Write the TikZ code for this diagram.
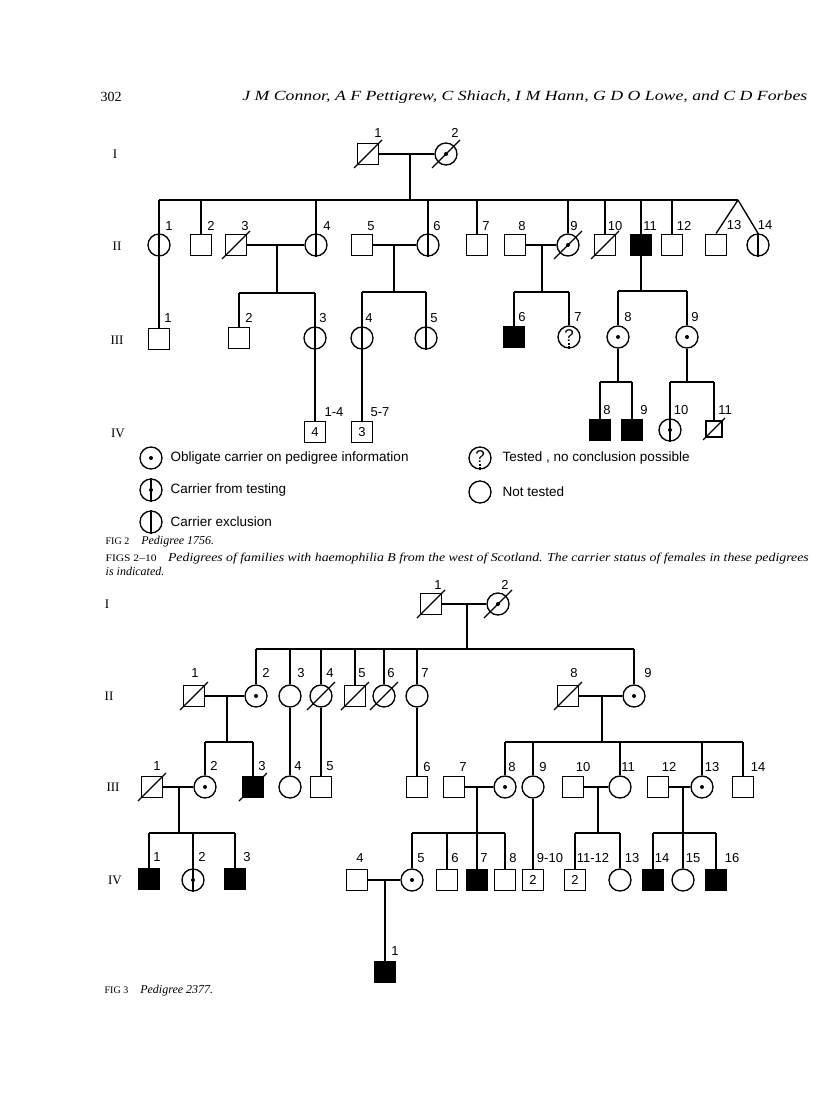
\documentclass[tikz,border=0pt]{standalone}
\usepackage{fontspec}
\setmainfont{Liberation Serif}
\setsansfont{Liberation Sans}
\usetikzlibrary{calc}
\newcommand\pdslash[2][14]{\draw ($(#2.center)+(-#1,#1)$) -- ($(#2.center)+(#1,-#1)$);}
\newcommand\pddot[1]{\fill (#1.center) circle (2pt);}
\newcommand\pdvl[1]{\draw (#1.north) -- (#1.south);}
\newcommand\lab[4]{\node[lab] (#1) at (#2,#3) {#4};}
\newcommand\pdq[1]{\node[font=\sffamily\fontsize{17}{17}\selectfont,inner sep=0pt] (#1q) at ($(#1.center)+(0,-1)$) {?};\draw[dash pattern=on 1.5pt off 1pt] ($(#1.center)+(0,6)$) -- (#1.south);}
\begin{document}
\begin{tikzpicture}[x=1pt,y=-1pt,line width=1.35pt,
  male/.style={draw,rectangle,minimum size=21.5pt,inner sep=0pt,line width=1.35pt},
  female/.style={draw,circle,minimum size=22pt,inner sep=0pt,line width=1.35pt},
  aff/.style={fill=black},
  lab/.style={font=\sffamily\fontsize{13}{13}\selectfont,inner sep=0pt},
  gen/.style={font=\rmfamily\fontsize{13}{13}\selectfont,inner sep=0pt},
  leg/.style={font=\sffamily\fontsize{13.5}{13.5}\selectfont,inner sep=0pt,anchor=west},
  inner/.style={font=\sffamily\fontsize{13}{13}\selectfont}]
\fill[white] (0,0) rectangle (816,1110);
\useasboundingbox (0,0) rectangle (816,1110);

% ---------- header ----------
\node[anchor=west,inner sep=0pt,font=\rmfamily\fontsize{14}{14}\selectfont] (pg) at (100,97) {302};
\node[anchor=east,inner sep=0pt] (auth) at (808,97) {\resizebox{565pt}{\height}{\fontsize{14}{14}\selectfont\itshape J M Connor, A F Pettigrew, C Shiach, I M Hann, G D O Lowe, and C D Forbes}};

% ================= FIG 2 =================
\node[gen] (ga1) at (115,154) {I};
\node[gen] (ga2) at (117,246) {II};
\node[gen] (ga3) at (117,340) {III};
\node[gen] (ga4) at (118,433) {IV};

\node[male] (a11) at (368,154) {}; \pdslash{a11}
\node[female] (a12) at (446,154) {}; \pddot{a12}\pdslash{a12}
\lab{la11}{378}{133}{1}\lab{la12}{455}{133}{2}
\coordinate (a1d) at (410,154); \coordinate (a1s) at (410,200);
\draw (a11.east) -- (a12.west); \draw (a1d) -- (a1s);
\coordinate (a2L) at (159,200); \coordinate (a2R) at (738,200);
\draw (a2L) -- (a2R);

% generation II
\node[female] (a21) at (159,245) {}; \pdvl{a21}
\node[male] (a22) at (201,245) {};
\node[male] (a23) at (236,245) {}; \pdslash{a23}
\node[female] (a24) at (316,245) {}; \pdvl{a24}
\node[male] (a25) at (362,245) {};
\node[female] (a26) at (428,245) {}; \pdvl{a26}
\node[male] (a27) at (477,245) {};
\node[male] (a28) at (515,245) {};
\node[female] (a29) at (568,245) {}; \pddot{a29}\pdslash{a29}
\node[male] (a210) at (605,245) {}; \pdslash{a210}
\node[male,aff] (a211) at (641,245) {};
\node[male] (a212) at (672,245) {};
\node[male] (a213) at (716,245) {};
\node[female] (a214) at (758,245) {}; \pdvl{a214}
\lab{la21}{169}{226}{1}\lab{la22}{211}{226}{2}\lab{la23}{245}{226}{3}
\lab{la24}{327}{226}{4}\lab{la25}{371}{226}{5}\lab{la26}{437}{226}{6}
\lab{la27}{486}{226}{7}\lab{la28}{522}{226}{8}\lab{la29}{574}{226}{9}
\lab{la210}{615}{226}{10}\lab{la211}{650}{226}{11}\lab{la212}{684}{226}{12}
\lab{la213}{734}{225}{13}\lab{la214}{765}{225}{14}
\foreach \n in {a21,a22,a24,a26,a27,a29,a210,a211,a212} \draw (\n.north |- a2L) -- (\n.north);
\draw (a2R) -- (a213.north); \draw (a2R) -- (a214.north);

% marriages II
\draw (a23.east) -- (a24.west);
\coordinate (m1) at (277,245); \coordinate (m1s) at (277,293);
\draw (m1) -- (m1s);
\draw (a25.east) -- (a26.west);
\coordinate (m2) at (394,245); \coordinate (m2s) at (394,292);
\draw (m2) -- (m2s);
\draw (a28.east) -- (a29.west);
\coordinate (m3) at (542,245); \coordinate (m3s) at (542,292);
\draw (m3) -- (m3s);
\coordinate (m4s) at (641,291);
\draw (a211.south) -- (m4s);

% generation III
\node[male] (a31) at (159,339) {};
\node[male] (a32) at (239,338) {};
\node[female] (a33) at (315,338) {}; \pdvl{a33}
\node[female] (a34) at (362,338) {}; \pdvl{a34}
\node[female] (a35) at (426,338) {}; \pdvl{a35}
\node[male,aff] (a36) at (514,337) {};
\node[female] (a37) at (569,337) {}; \pdq{a37}
\node[female] (a38) at (618,337) {}; \pddot{a38}
\node[female] (a39) at (687,337) {}; \pddot{a39}
\lab{la31}{168}{318}{1}\lab{la32}{249}{318}{2}\lab{la33}{323}{318}{3}
\lab{la34}{369}{318}{4}\lab{la35}{434}{318}{5}\lab{la36}{522}{317}{6}
\lab{la37}{578}{317}{7}\lab{la38}{628}{317}{8}\lab{la39}{695}{317}{9}
\draw (a21.south) -- (a31.north);
\draw (a32.north |- m1s) -- (a33.north |- m1s);
\draw (a32.north |- m1s) -- (a32.north); \draw (a33.north |- m1s) -- (a33.north);
\draw (a34.north |- m2s) -- (a35.north |- m2s);
\draw (a34.north |- m2s) -- (a34.north); \draw (a35.north |- m2s) -- (a35.north);
\draw (a36.north |- m3s) -- (a37.north |- m3s);
\draw (a36.north |- m3s) -- (a36.north); \draw (a37.north |- m3s) -- (a37.north);
\draw (a38.north |- m4s) -- (a39.north |- m4s);
\draw (a38.north |- m4s) -- (a38.north); \draw (a39.north |- m4s) -- (a39.north);

% generation IV
\node[male,inner] (a41) at (315,432) {4};
\node[male,inner] (a42) at (362,432) {3};
\node[male,aff] (a43) at (600,430) {};
\node[male,aff] (a44) at (632,430) {};
\node[female] (a45) at (670,430) {}; \pdvl{a45}\pddot{a45}
\node[male,minimum size=16pt] (a46) at (714,429) {}; \pdslash[11]{a46}
\lab{la41}{334}{412}{1-4}\lab{la42}{380}{412}{5-7}\lab{la43}{607}{410}{8}
\lab{la44}{644}{410}{9}\lab{la45}{681}{410}{10}\lab{la46}{725}{410}{11}
\draw (a33.south) -- (a41.north);
\draw (a34.south) -- (a42.north);
\coordinate (m5s) at (618,382); \coordinate (m6s) at (687,382);
\draw (a38.south) -- (m5s); \draw (a39.south) -- (m6s);
\draw (a43.north |- m5s) -- (a44.north |- m5s);
\draw (a43.north |- m5s) -- (a43.north); \draw (a44.north |- m5s) -- (a44.north);
\draw (a45.north |- m6s) -- (a46.north |- m6s);
\draw (a45.north |- m6s) -- (a45.north); \draw (a46.north |- m6s) -- (a46.north);

% legend
\node[female] (lg1) at (151,458) {}; \pddot{lg1}
\node[leg] (lt1) at (170,458) {Obligate carrier on pedigree information};
\node[female] (lg2) at (151,490) {}; \pdvl{lg2}\pddot{lg2}
\node[leg] (lt2) at (170,490) {Carrier from testing};
\node[female] (lg3) at (151,522) {}; \pdvl{lg3}
\node[leg] (lt3) at (170,522) {Carrier exclusion};
\node[female] (lg4) at (480,458) {}; \pdq{lg4}
\node[leg] (lt4) at (502,458) {Tested , no conclusion possible};
\node[female] (lg5) at (480,492) {};
\node[leg] (lt5) at (502,492) {Not tested};

% captions
\node[anchor=base west,inner sep=0pt] (cap2) at (105,544) {{\fontsize{10}{10}\selectfont FIG 2}\hspace{12pt}{\fontsize{12}{12}\selectfont\itshape Pedigree 1756.}};
\node[anchor=base west,inner sep=0pt] (capall) at (105,561) {\resizebox{703pt}{\height}{{\fontsize{10}{10}\selectfont FIGS 2--10}\hspace{10pt}{\fontsize{12}{12}\selectfont\itshape Pedigrees of families with haemophilia B from the west of Scotland. The carrier status of females in these pedigrees}}};
\node[anchor=base west,inner sep=0pt,font=\fontsize{12}{12}\selectfont\itshape] (capall2) at (105,575) {is indicated.};

% ================= FIG 3 =================
\node[gen] (gb1) at (107,604) {I};
\node[gen] (gb2) at (109,696) {II};
\node[gen] (gb3) at (113,787) {III};
\node[gen] (gb4) at (115,880) {IV};

\node[male] (b11) at (431,604) {}; \pdslash{b11}
\node[female] (b12) at (498,604) {}; \pddot{b12}\pdslash{b12}
\lab{lb11}{438}{585}{1}\lab{lb12}{505}{585}{2}
\draw (b11.east) -- (b12.west);
\coordinate (b1d) at (467,604); \coordinate (b1s) at (467,649);
\draw (b1d) -- (b1s);

% generation II
\node[male] (b21) at (194,696) {}; \pdslash{b21}
\node[female] (b22) at (256,696) {}; \pddot{b22}
\node[female] (b23) at (290,696) {};
\node[female] (b24) at (321,696) {}; \pdslash{b24}
\node[male] (b25) at (355,696) {}; \pdslash{b25}
\node[female] (b26) at (384,696) {}; \pdslash{b26}
\node[female] (b27) at (417,696) {};
\node[male] (b28) at (568,696) {}; \pdslash{b28}
\node[female] (b29) at (634,696) {}; \pddot{b29}
\lab{lb21}{195}{673}{1}\lab{lb22}{266}{673}{2}\lab{lb23}{301}{673}{3}
\lab{lb24}{330}{673}{4}\lab{lb25}{362}{673}{5}\lab{lb26}{391}{673}{6}
\lab{lb27}{425}{673}{7}\lab{lb28}{574}{673}{8}\lab{lb29}{648}{673}{9}
\draw (b22.north |- b1s) -- (b29.north |- b1s);
\foreach \n in {b22,b23,b24,b25,b26,b27,b29} \draw (\n.north |- b1s) -- (\n.north);

\draw (b21.east) -- (b22.west);
\coordinate (n1) at (227,696); \coordinate (n1s) at (227,742);
\draw (n1) -- (n1s);
\draw (b28.east) -- (b29.west);
\coordinate (n2) at (602,696); \coordinate (n2s) at (602,742);
\draw (n2) -- (n2s);

% generation III
\node[male] (b31) at (152,787) {}; \pdslash{b31}
\node[female] (b32) at (205,787) {}; \pddot{b32}
\node[male,aff] (b33) at (253,787) {}; \pdslash{b33}
\node[female] (b34) at (290,787) {};
\node[male] (b35) at (321,787) {};
\node[male] (b36) at (417,787) {};
\node[male] (b37) at (454,787) {};
\node[female] (b38) at (505,787) {}; \pddot{b38}
\node[female] (b39) at (533,787) {};
\node[male] (b310) at (573,787) {};
\node[female] (b311) at (620,787) {};
\node[male] (b312) at (658,787) {};
\node[female] (b313) at (702,787) {}; \pddot{b313}
\node[male] (b314) at (743,787) {};
\lab{lb31}{157}{766}{1}\lab{lb32}{214}{766}{2}\lab{lb33}{262}{766}{3}
\lab{lb34}{298}{766}{4}\lab{lb35}{330}{766}{5}\lab{lb36}{427}{767}{6}
\lab{lb37}{463}{767}{7}\lab{lb38}{512}{767}{8}\lab{lb39}{543}{767}{9}
\lab{lb310}{583}{767}{10}\lab{lb311}{628}{767}{11}\lab{lb312}{669}{767}{12}
\lab{lb313}{712}{767}{13}\lab{lb314}{758}{767}{14}
\draw (b32.north |- n1s) -- (b33.north |- n1s);
\draw (b32.north |- n1s) -- (b32.north); \draw (b33.north |- n1s) -- (b33.north);
\draw (b23.south) -- (b34.north);
\draw (b24.south) -- (b35.north);
\draw (b27.south) -- (b36.north);
\draw (b38.north |- n2s) -- (b314.north |- n2s);
\foreach \n in {b38,b39,b311,b313,b314} \draw (\n.north |- n2s) -- (\n.north);

\draw (b31.east) -- (b32.west);
\coordinate (n3) at (179,787); \coordinate (n3s) at (179,833);
\draw (n3) -- (n3s);
\draw (b37.east) -- (b38.west);
\coordinate (n4) at (477,787); \coordinate (n4s) at (477,833);
\draw (n4) -- (n4s);
\draw (b310.east) -- (b311.west);
\coordinate (n5) at (598,787); \coordinate (n5s) at (598,833);
\draw (n5) -- (n5s);
\draw (b312.east) -- (b313.west);
\coordinate (n6) at (683,787); \coordinate (n6s) at (683,833);
\draw (n6) -- (n6s);

% generation IV
\node[male,aff] (b41) at (149,879) {};
\node[female] (b42) at (193,880) {}; \pdvl{b42}\pddot{b42}
\node[male,aff] (b43) at (235,879) {};
\node[male] (b44) at (357,880) {};
\node[female] (b45) at (412,880) {}; \pddot{b45}
\node[male] (b46) at (447,880) {};
\node[male,aff] (b47) at (477,880) {};
\node[male] (b48) at (505,880) {};
\node[male,inner] (b49) at (533,880) {2};
\node[male,inner] (b411) at (575,880) {2};
\node[female] (b413) at (620,880) {};
\node[male,aff] (b414) at (653,880) {};
\node[female] (b415) at (683,880) {};
\node[male,aff] (b416) at (716,880) {};
\lab{lb41}{157}{857}{1}\lab{lb42}{202}{857}{2}\lab{lb43}{247}{857}{3}
\lab{lb44}{360}{858}{4}\lab{lb45}{421}{858}{5}\lab{lb46}{455}{858}{6}
\lab{lb47}{484}{858}{7}\lab{lb48}{513}{858}{8}\lab{lb49}{550}{858}{9-10}
\lab{lb411}{593}{858}{11-12}\lab{lb413}{632}{858}{13}\lab{lb414}{662}{858}{14}
\lab{lb415}{693}{858}{15}\lab{lb416}{732}{858}{16}
\draw (b41.north |- n3s) -- (b43.north |- n3s);
\foreach \n in {b41,b42,b43} \draw (\n.north |- n3s) -- (\n.north);
\draw (b45.north |- n4s) -- (b48.north |- n4s);
\foreach \n in {b45,b46,b47,b48} \draw (\n.north |- n4s) -- (\n.north);
\draw (b39.south) -- (b49.north);
\draw (b411.north |- n5s) -- (b413.north |- n5s);
\foreach \n in {b411,b413} \draw (\n.north |- n5s) -- (\n.north);
\draw (b414.north |- n6s) -- (b416.north |- n6s);
\foreach \n in {b414,b415,b416} \draw (\n.north |- n6s) -- (\n.north);

\draw (b44.east) -- (b45.west);
\coordinate (n7) at (385,880);
% generation V
\node[male,aff] (b51) at (385,972) {};
\lab{lb51}{395}{951}{1}
\draw (n7) -- (b51.north);

\node[anchor=base west,inner sep=0pt] (cap3) at (104,993) {{\fontsize{10}{10}\selectfont FIG 3}\hspace{12pt}{\fontsize{12}{12}\selectfont\itshape Pedigree 2377.}};
\end{tikzpicture}
\end{document}
